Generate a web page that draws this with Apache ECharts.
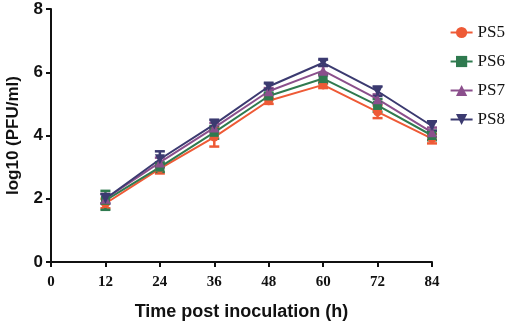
<!DOCTYPE html>
<html>
<head>
<meta charset="utf-8">
<script src="https://cdn.jsdelivr.net/npm/echarts@6/dist/echarts.min.js"></script>
<style>
  html, body { margin: 0; padding: 0; background: #fff; }
  #chart { width: 510px; height: 325px; }
</style>
</head>
<body>
<div id="chart"></div>
<script>
// time points (h)
var hours = [12, 24, 36, 48, 60, 72, 84];
var names = ['PS5', 'PS6', 'PS7', 'PS8'];

// log10 (PFU/ml) means
var ps5 = [1.85, 2.95, 3.95, 5.1, 5.6, 4.75, 3.9];
var ps6 = [1.95, 3.0, 4.1, 5.25, 5.8, 4.95, 4.0];
var ps7 = [2.0, 3.15, 4.25, 5.4, 6.05, 5.15, 4.1];
var ps8 = [2.0, 3.25, 4.35, 5.55, 6.3, 5.4, 4.3];

// error (+/-)
var err5 = [0.15, 0.15, 0.3, 0.1, 0.1, 0.2, 0.15];
var err6 = [0.3, 0.15, 0.2, 0.1, 0.15, 0.2, 0.15];
var err7 = [0.15, 0.15, 0.15, 0.1, 0.15, 0.15, 0.15];
var err8 = [0.15, 0.25, 0.15, 0.1, 0.1, 0.15, 0.15];

var colors = ['#ee5a36', '#2f7a4f', '#8b4f8c', '#3b3a70'];
var symbols = ['circle', 'rect', 'triangle', 'path://M0,0 L10,0 L5,9 Z'];

var means = [ps5, ps6, ps7, ps8];
var errs = [err5, err6, err7, err8];

var myChart = echarts.init(document.getElementById('chart'));

var series = [];
for (var s = 0; s < 4; s++) {
    var pts = [], bars = [];
    for (var i = 0; i < hours.length; i++) {
        pts.push([hours[i], means[s][i]]);
        bars.push([hours[i], means[s][i] - errs[s][i], means[s][i] + errs[s][i]]);
    }
    series.push({
        type: 'line',
        name: names[s],
        data: pts,
        z: 3,
        symbol: symbols[s],
        symbolSize: s < 2 ? 9 : 10,
        showAllSymbol: true,
        lineStyle: { color: colors[s], width: 2 },
        itemStyle: { color: colors[s] }
    });
    // error bars (no name -> not in legend)
    series.push({
        type: 'custom',
        data: bars,
        z: 2,
        silent: true,
        itemStyle: { color: colors[s] },
        renderItem: (function (col) {
            return function (params, api) {
                var lo = api.coord([api.value(0), api.value(1)]);
                var hi = api.coord([api.value(0), api.value(2)]);
                var w = 5;
                var st = { stroke: col, lineWidth: 2.5 };
                return {
                    type: 'group',
                    children: [
                        { type: 'line', shape: { x1: lo[0], y1: lo[1], x2: hi[0], y2: hi[1] }, style: st },
                        { type: 'line', shape: { x1: lo[0] - w, y1: lo[1], x2: lo[0] + w, y2: lo[1] }, style: st },
                        { type: 'line', shape: { x1: hi[0] - w, y1: hi[1], x2: hi[0] + w, y2: hi[1] }, style: st }
                    ]
                };
            };
        })(colors[s])
    });
}

myChart.setOption({
    animation: false,
    grid: { left: 51, right: 78, top: 9, bottom: 63, containLabel: false, outerBoundsMode: 'none' },
    legend: {
        data: names,
        orient: 'vertical',
        right: 0,
        top: 19,
        itemGap: 12,
        itemWidth: 22,
        itemHeight: 14,
        textStyle: { fontFamily: 'Liberation Serif', fontSize: 17, color: '#111' }
    },
    xAxis: {
        type: 'value',
        min: 0,
        max: 84,
        interval: 12,
        name: 'Time post inoculation (h)',
        nameLocation: 'middle',
        nameGap: 41,
        nameMoveOverlap: false,
        nameTextStyle: { fontFamily: 'Liberation Sans', fontWeight: 'bold', fontSize: 18, color: '#111' },
        axisLine: { lineStyle: { color: '#111', width: 2 } },
        axisTick: { length: 5, lineStyle: { color: '#111', width: 2 } },
        axisLabel: { fontFamily: 'Liberation Serif', fontWeight: 'bold', fontSize: 15, color: '#111', margin: 13 },
        splitLine: { show: false }
    },
    yAxis: {
        type: 'value',
        min: 0,
        max: 8,
        interval: 2,
        name: 'log10 (PFU/ml)',
        nameLocation: 'middle',
        nameGap: 29,
        nameMoveOverlap: false,
        nameTextStyle: { fontFamily: 'Liberation Sans', fontWeight: 'bold', fontSize: 17, color: '#111' },
        axisLine: { show: true, lineStyle: { color: '#111', width: 2 } },
        axisTick: { show: true, length: 5, lineStyle: { color: '#111', width: 2 } },
        axisLabel: { fontFamily: 'Liberation Sans', fontWeight: 'bold', fontSize: 17, color: '#111', margin: 8 },
        splitLine: { show: false }
    },
    series: series
});
</script>
</body>
</html>
